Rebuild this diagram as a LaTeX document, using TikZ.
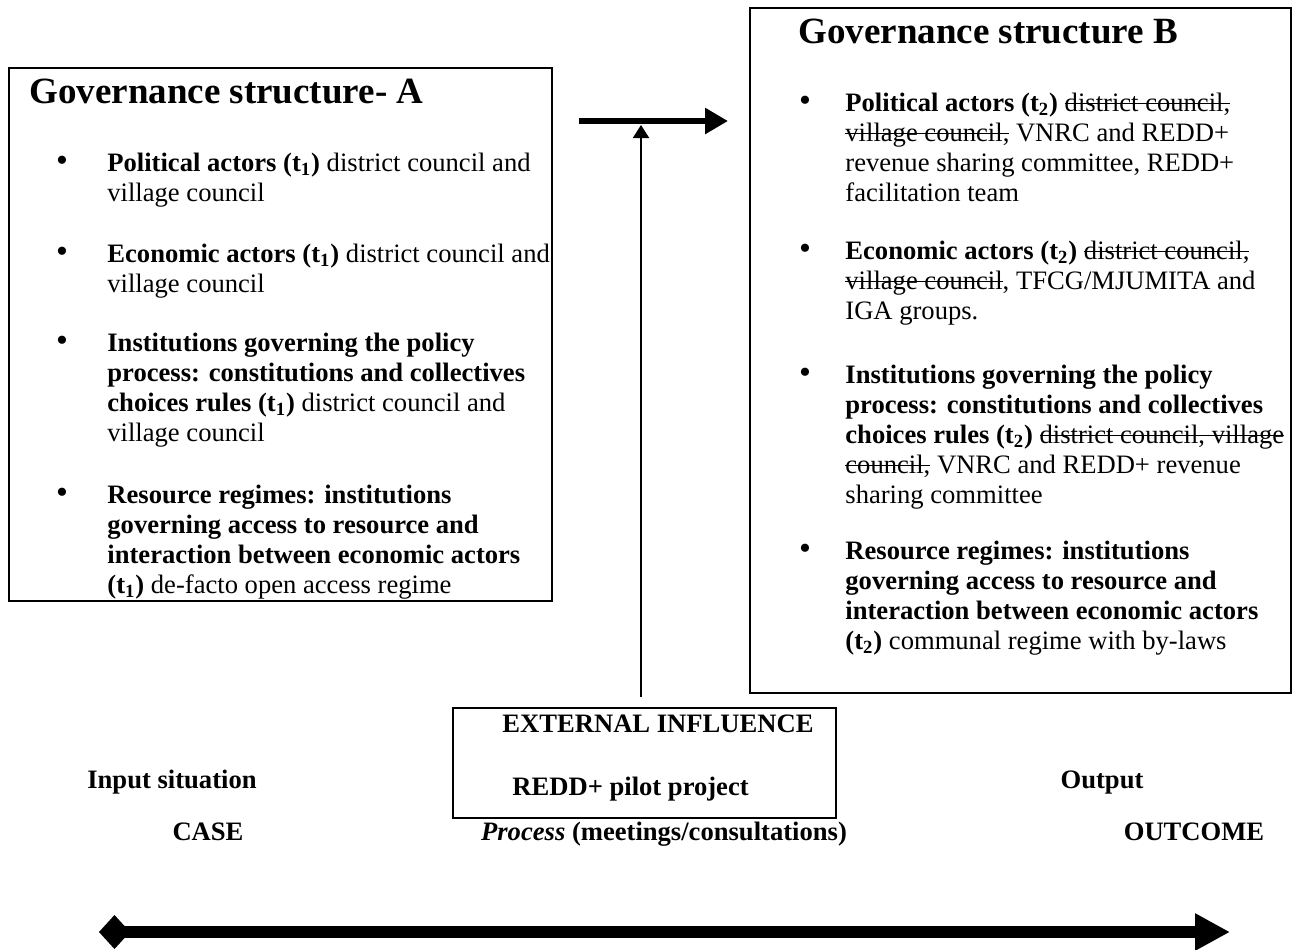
\documentclass[tikz,border=0pt]{standalone}
\usepackage{fontspec}
\setmainfont{Liberation Serif}
\usetikzlibrary{arrows.meta,calc}

% a block of lines whose baseline is that of its first line
\newcommand\txtblock[1]{\begin{tabular}[t]{@{}l@{}}#1\end{tabular}}
% struck-through words
\newsavebox\strikebox
\newcommand\struck[1]{\sbox\strikebox{#1}\rlap{\rule[0.26em]{\wd\strikebox}{0.45pt}}\usebox\strikebox}

\tikzset{
  panel/.style={draw, line width=1pt, rectangle, inner sep=0pt, anchor=north west},
  bodytext/.style={anchor=base west, inner sep=0pt, font=\fontsize{13.3}{15}\selectfont},
  headtext/.style={anchor=base west, inner sep=0pt, font=\fontsize{18.5}{22}\selectfont\bfseries},
  bulletmark/.style={anchor=base, inner sep=0pt, font=\fontsize{17}{18}\selectfont},
  stagetext/.style={anchor=base west, inner sep=0pt, font=\fontsize{13.3}{15}\selectfont\bfseries},
}

\begin{document}
\begin{tikzpicture}[x=0.5pt, y=-0.5pt]
\useasboundingbox (0,0) rectangle (1294,949);

% ---- governance structure A ----
\node[panel, minimum width=271.5pt, minimum height=266.5pt] (govA) at (8,67) {};
\node[headtext] (headA) at (29,103) {Governance structure- A};

\node[bulletmark] (bA1) at (62,171) {\textbullet};
\node[bodytext] (itemA1) at (107,171) {\txtblock{%
  \textbf{Political actors (t\textsubscript{1})} district council and\\
  village council}};
\node[bulletmark] (bA2) at (62,262) {\textbullet};
\node[bodytext] (itemA2) at (107,262) {\txtblock{%
  \textbf{Economic actors (t\textsubscript{1})} district council and\\
  village council}};
\node[bulletmark] (bA3) at (62,351) {\textbullet};
\node[bodytext] (itemA3) at (107,351) {\txtblock{%
  \textbf{Institutions governing the policy}\\
  \textbf{process: constitutions and collectives}\\
  \textbf{choices rules (t\textsubscript{1})} district council and\\
  village council}};
\node[bulletmark] (bA4) at (62,503) {\textbullet};
\node[bodytext] (itemA4) at (107,503) {\txtblock{%
  \textbf{Resource regimes: institutions}\\
  \textbf{governing access to resource and}\\
  \textbf{interaction between economic actors}\\
  \textbf{(t\textsubscript{1})} de-facto open access regime}};

% ---- governance structure B ----
\node[panel, minimum width=270.5pt, minimum height=342.5pt] (govB) at (749,7) {};
\node[headtext] (headB) at (798,43) {Governance structure B};

\node[bulletmark] (bB1) at (805,111) {\textbullet};
\node[bodytext] (itemB1) at (845,111) {\txtblock{%
  \textbf{Political actors (t\textsubscript{2})} \struck{district council,}\\
  \struck{village council,} VNRC and REDD+\\
  revenue sharing committee, REDD+\\
  facilitation team}};
\node[bulletmark] (bB2) at (805,259) {\textbullet};
\node[bodytext] (itemB2) at (845,259) {\txtblock{%
  \textbf{Economic actors (t\textsubscript{2})} \struck{district council,}\\
  \struck{village council}, TFCG/MJUMITA and\\
  IGA groups.}};
\node[bulletmark] (bB3) at (805,383) {\textbullet};
\node[bodytext] (itemB3) at (845,383) {\txtblock{%
  \textbf{Institutions governing the policy}\\
  \textbf{process: constitutions and collectives}\\
  \textbf{choices rules (t\textsubscript{2})} \struck{district council, village}\\
  \struck{council,} VNRC and REDD+ revenue\\
  sharing committee}};
\node[bulletmark] (bB4) at (805,559) {\textbullet};
\node[bodytext] (itemB4) at (845,559) {\txtblock{%
  \textbf{Resource regimes: institutions}\\
  \textbf{governing access to resource and}\\
  \textbf{interaction between economic actors}\\
  \textbf{(t\textsubscript{2})} communal regime with by-laws}};

% ---- external influence ----
\node[panel, minimum width=191.5pt, minimum height=55pt] (ext) at (452,707) {};
\node[stagetext] (extTitle) at (502,732) {EXTERNAL INFLUENCE};
\node[stagetext] (extProj) at (512,795) {REDD+ pilot project};

% ---- stage labels ----
\node[stagetext, anchor=base] (inputLbl) at (172,788) {Input situation};
\node[stagetext, anchor=base] (outputLbl) at (1102,788) {Output};
\node[stagetext, anchor=base] (caseLbl) at (208,840) {CASE};
\node[stagetext, anchor=base] (processLbl) at (664,840) {\textit{Process} (meetings/consultations)};
\node[stagetext, anchor=base] (outcomeLbl) at (1194,840) {OUTCOME};

% ---- connectors ----
\coordinate (flowStart) at (579,121);
\coordinate (flowEnd) at (728,121);
\draw[line width=3.25pt, -{Triangle[length=11.5pt,width=12.5pt]}] (flowStart) -- (flowEnd);

\coordinate (inflTip) at (641,125);
\draw[line width=1pt, -{Triangle[length=6.5pt,width=8pt]}]
  ($(ext.north -| inflTip)+(0,-10)$) -- (inflTip);

\coordinate (timeStart) at (99,932);
\coordinate (timeEnd) at (1230,932);
\draw[line width=6pt, {Diamond[length=15.5pt,width=17pt]}-{Triangle[length=17.5pt,width=17.5pt]}]
  (timeStart) -- (timeEnd);
\end{tikzpicture}
\end{document}
